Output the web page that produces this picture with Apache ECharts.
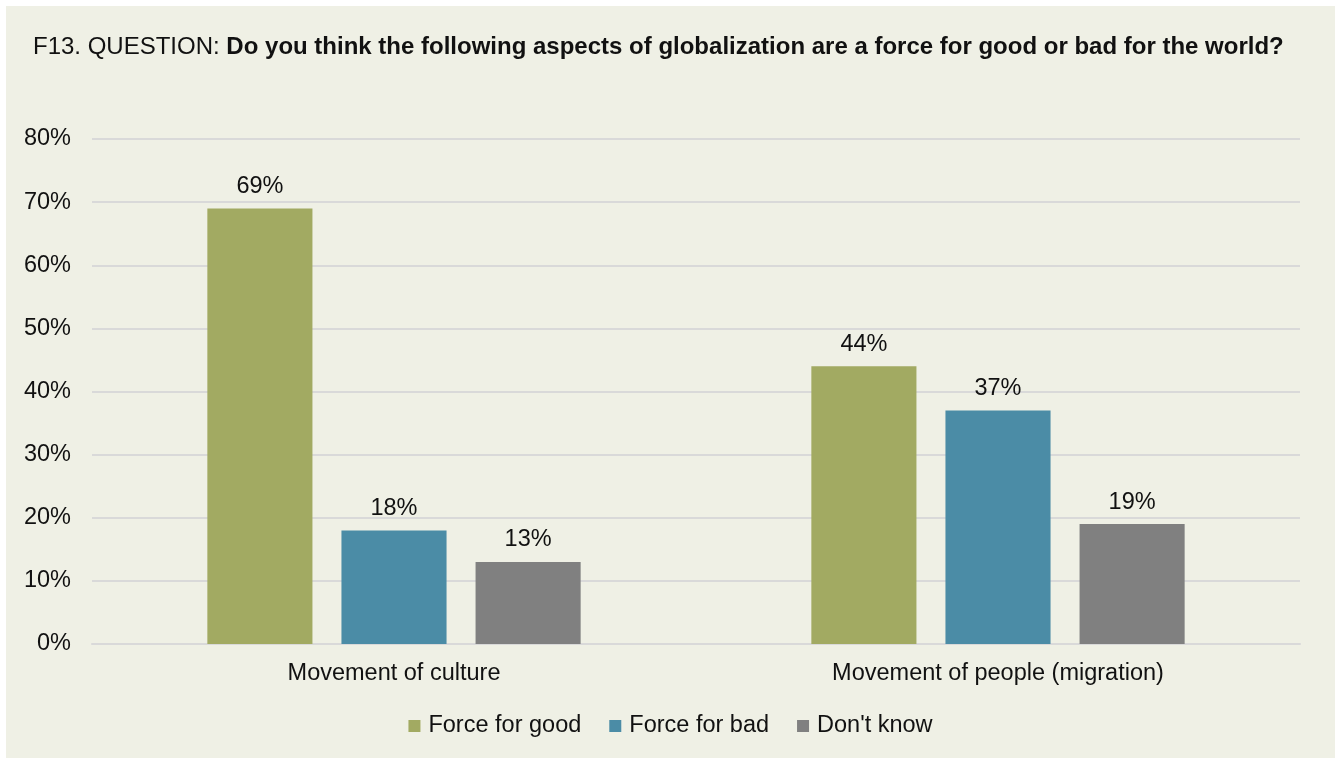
<!DOCTYPE html>
<html>
<head>
<meta charset="utf-8">
<script src="https://cdn.jsdelivr.net/npm/echarts@6/dist/echarts.min.js"></script>
<style>
  html, body { margin: 0; padding: 0; background: #ffffff; }
  #chart { position: absolute; left: 6px; top: 6px; width: 1329px; height: 752px; background: #EFF0E5; }
</style>
</head>
<body>
<div id="chart"></div>
<script>
// Survey responses, share of respondents (%)
const categories = ['Movement of culture', 'Movement of people (migration)'];
const seriesNames = ['Force for good', 'Force for bad', "Don't know"];
const forceForGood = [69, 44];
const forceForBad = [18, 37];
const dontKnow = [13, 19];
const colors = ['#A2AA62', '#4B8CA6', '#808080'];

const font = '"Liberation Sans", Arial, sans-serif';
const chart = echarts.init(document.getElementById('chart'), null, { renderer: 'canvas' });

function barSeries(name, data, color) {
  return {
    name: name,
    type: 'bar',
    data: data,
    barWidth: '17.4%',
    barGap: '27.6%',
    itemStyle: { color: color },
    label: {
      show: true,
      position: 'top',
      distance: 10,
      formatter: '{c}%',
      color: '#111111',
      fontFamily: font,
      fontSize: 23.5
    }
  };
}

chart.setOption({
  animation: false,
  color: colors,
  textStyle: { fontFamily: font },
  title: {
    text: '{n|F13. QUESTION: }{b|Do you think the following aspects of globalization are a force for good or bad for the world?}',
    left: 22,
    top: 24,
    textStyle: {
      rich: {
        n: { fontFamily: font, fontSize: 24, color: '#111111', fontWeight: 'normal' },
        b: { fontFamily: font, fontSize: 24, color: '#111111', fontWeight: 'bold' }
      }
    }
  },
  legend: {
    data: seriesNames,
    bottom: 15,
    left: 'center',
    itemWidth: 12,
    itemHeight: 12,
    itemGap: 28,
    icon: 'rect',
    textStyle: { fontFamily: font, fontSize: 23.5, color: '#111111', padding: [0, 0, 0, 3] }
  },
  grid: {
    left: 86,
    top: 133,
    width: 1208,
    height: 505,
    containLabel: false
  },
  xAxis: {
    type: 'category',
    data: categories,
    axisLine: { show: true, lineStyle: { color: '#D9D9D9', width: 2 } },
    axisTick: { show: false },
    axisLabel: { fontFamily: font, fontSize: 23.5, color: '#111111', margin: 18 }
  },
  yAxis: {
    type: 'value',
    min: 0,
    max: 80,
    interval: 10,
    axisLine: { show: false },
    axisTick: { show: false },
    splitLine: { lineStyle: { color: '#D9D9D9', width: 2 } },
    axisLabel: { formatter: '{value}%', fontFamily: font, fontSize: 23.5, color: '#111111', margin: 21, padding: [4, 0, 0, 0] }
  },
  series: [
    barSeries(seriesNames[0], forceForGood, colors[0]),
    barSeries(seriesNames[1], forceForBad, colors[1]),
    barSeries(seriesNames[2], dontKnow, colors[2])
  ]
});
</script>
</body>
</html>
